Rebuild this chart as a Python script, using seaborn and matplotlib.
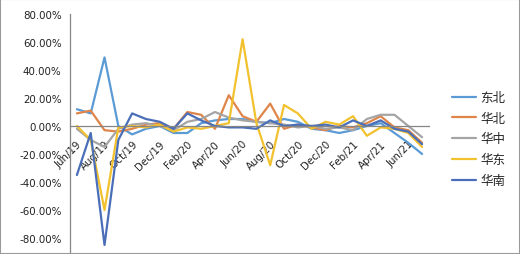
import matplotlib
matplotlib.use("Agg")
import matplotlib.pyplot as plt
import matplotlib.ticker as mticker
from matplotlib.patches import Rectangle
import seaborn as sns
import pandas as pd

months = ["Jun/19", "Jul/19", "Aug/19", "Sep/19", "Oct/19", "Nov/19", "Dec/19",
          "Jan/20", "Feb/20", "Mar/20", "Apr/20", "May/20", "Jun/20", "Jul/20",
          "Aug/20", "Sep/20", "Oct/20", "Nov/20", "Dec/20", "Jan/21", "Feb/21",
          "Mar/21", "Apr/21", "May/21", "Jun/21", "Jul/21"]

dongbei = [12, 9, 49, 0, -6, -2, 0, -5, -5, 2, 4, 5, 5, 3, 2, 5, 3, -2, -3, -5, -3, 0, 2, -5, -12, -20]
huabei = [9, 11, -3, -4, -2, 1, 2, -2, 10, 8, -2, 22, 7, 3, 16, -2, 1, -1, -3, 0, -1, 2, 7, -1, -3, -12]
huazhong = [-2, -10, -15, -2, 1, 2, 0, -3, 3, 5, 10, 6, 4, 3, 2, 1, -1, 0, -2, -1, -3, 5, 8, 8, 0, -8]
huadong = [0, -10, -60, -1, 0, -1, 1, -4, -1, -2, 0, 2, 62, 2, -28, 15, 9, -2, 3, 1, 7, -7, -1, -2, -5, -15]
huanan = [-35, -5, -85, -10, 9, 5, 3, -2, 9, 4, 0, -1, -1, -2, 4, 0, 1, 0, 1, -1, 4, 0, 4, -2, -4, -13]

series_names = ["东北", "华北", "华中", "华东", "华南"]
series_values = [dongbei, huabei, huazhong, huadong, huanan]
colors = ["#5B9BD5", "#E0854A", "#A5A5A5", "#F2C12E", "#4A6FB8"]

rows = []
for name, vals in zip(series_names, series_values):
    for i, v in enumerate(vals):
        rows.append({"idx": i, "value": v / 100.0, "region": name})
df = pd.DataFrame(rows)

sns.set_style("white")
plt.rcParams["font.family"] = ["DejaVu Sans"]

fig = plt.figure(figsize=(5.2, 2.55), dpi=100)
ax = fig.add_axes([70 / 520, 1 - 253 / 255, (429 - 70) / 520, (253 - 15) / 255])

sns.lineplot(data=df, x="idx", y="value", hue="region", hue_order=series_names,
             palette=colors, linewidth=1.6, ax=ax, legend=False)

ax.set_xlim(-0.5, len(months) - 0.5)
ax.set_ylim(-0.9, 0.8)
ax.set_xlabel("")
ax.set_ylabel("")

for s in ["top", "right"]:
    ax.spines[s].set_visible(False)
ax.spines["left"].set_color("#868686")
ax.spines["left"].set_linewidth(0.9)
ax.spines["bottom"].set_position(("data", 0))
ax.spines["bottom"].set_color("#868686")
ax.spines["bottom"].set_linewidth(0.9)

ax.set_yticks([v / 100 for v in range(-80, 81, 20)])
ax.yaxis.set_major_formatter(mticker.FuncFormatter(lambda v, p: f"{v*100:.2f}%"))
ax.tick_params(axis="y", which="major", length=3, width=0.8, color="#868686",
               labelsize=7.4, labelcolor="#222222", pad=3)

# tick marks at category boundaries every two months
ax.set_xticks([i - 0.5 for i in range(0, len(months) + 1, 2)])
ax.set_xticklabels([])
ax.tick_params(axis="x", which="major", length=4, width=0.8, color="#868686", direction="out")
# labels at every second category
ax.set_xticks(list(range(0, len(months), 2)), minor=True)
ax.set_xticklabels(months[::2], minor=True, rotation=45, ha="right",
                   rotation_mode="anchor", fontsize=7.4, color="#222222")
ax.tick_params(axis="x", which="minor", length=0, pad=9)

handles = [plt.Line2D([], [], color=c, lw=1.6) for c in colors]
fig.legend(handles, series_names, loc="center left", bbox_to_anchor=(441 / 520, 1 - 140 / 255),
           frameon=False, handlelength=1.9, handletextpad=0.35, labelspacing=0.62,
           prop={"family": ["Noto Sans CJK SC", "DejaVu Sans"], "size": 9})

fig.patches.append(Rectangle((0, 0), 1, 1, transform=fig.transFigure, fill=False,
                             edgecolor="#9a9a9a", linewidth=1.5))

fig.savefig("out.png", dpi=100)
